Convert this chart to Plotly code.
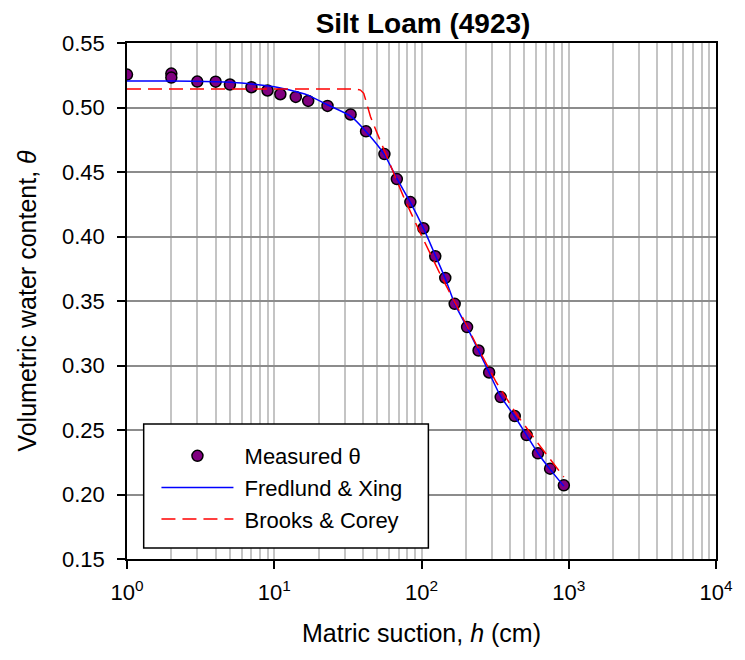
import plotly.graph_objects as go

# Measured data (matric suction h in cm, volumetric water content)
meas_h = [1, 2, 2, 3, 4, 5, 7, 9, 11, 14, 17, 23, 33, 42, 56, 68, 84, 103, 124, 145,
          168, 204, 244, 288, 345, 430, 517, 618, 747, 926]
meas_theta = [0.5255, 0.5263, 0.5232, 0.5201, 0.5200, 0.5178, 0.5157, 0.5132, 0.5103, 0.5082,
              0.5051, 0.5012, 0.4946, 0.4815, 0.4639, 0.4445, 0.4267, 0.4064, 0.3847, 0.3679,
              0.3478, 0.3298, 0.3116, 0.2946, 0.2755, 0.2608, 0.2461, 0.2319, 0.2200, 0.2071]

# Fredlund & Xing fitted curve
fx_h = [1, 2, 4, 6, 10, 13.5, 16.6, 22.6, 33, 41.5, 56, 68, 84, 103, 124, 145, 168, 204,
        244, 288, 345, 430, 517, 618, 747, 926]
fx_theta = [0.5206, 0.5205, 0.5200, 0.5190, 0.5160, 0.5128, 0.5100, 0.5025, 0.4933, 0.4820,
            0.4635, 0.4450, 0.4265, 0.4065, 0.3855, 0.3675, 0.3480, 0.3295, 0.3115, 0.2945,
            0.2760, 0.2605, 0.2460, 0.2320, 0.2195, 0.2065]

# Brooks & Corey fitted curve
bc_h = [1, 10, 30, 36, 38.5, 40.5, 42, 45, 50, 58, 76, 96, 135, 185, 251, 322, 443, 653, 926]
bc_theta = [0.5144, 0.5144, 0.5144, 0.5143, 0.5135, 0.5110, 0.5050, 0.4930, 0.4800, 0.4620,
            0.4300, 0.4050, 0.3700, 0.3400, 0.3100, 0.2870, 0.2620, 0.2360, 0.2136]

x_tickvals = [1, 10, 100, 1000, 10000]
x_ticktext = ["10<sup>0</sup>", "10<sup>1</sup>", "10<sup>2</sup>", "10<sup>3</sup>", "10<sup>4</sup>"]
y_tickvals = [0.15, 0.20, 0.25, 0.30, 0.35, 0.40, 0.45, 0.50, 0.55]

FONT = "Arial, Liberation Sans, sans-serif"
NB = "\u00a0"

fig = go.Figure()
fig.add_trace(go.Scatter(
    x=meas_h, y=meas_theta, mode="markers", name=NB + "Measured θ",
    marker=dict(size=11, color="#800080", line=dict(color="black", width=1.5)),
))
fig.add_trace(go.Scatter(
    x=fx_h, y=fx_theta, mode="lines", name=NB + "Fredlund & Xing",
    line=dict(color="#0000ff", width=1.5, shape="spline", smoothing=0.6),
))
fig.add_trace(go.Scatter(
    x=bc_h, y=bc_theta, mode="lines", name=NB + "Brooks & Corey",
    line=dict(color="#ff0000", width=1.5, dash="14px,7px"),
))

# legend frame
L, R, T, B = 127, 727, 43, 559
W, H = R - L, B - T
fig.add_shape(type="rect", xref="paper", yref="paper",
              x0=(144 - L) / W, x1=(434 - L) / W, y0=(B - 548) / H, y1=(B - 424) / H,
              line=dict(color="black", width=1.5), fillcolor="white", layer="above")

fig.update_layout(
    width=745, height=660,
    margin=dict(l=L, r=745 - R, t=T, b=660 - B),
    paper_bgcolor="white", plot_bgcolor="white",
    font=dict(family=FONT, size=22, color="black"),
    title=dict(text="<b>Silt Loam (4923)</b>", x=423 / 745, xanchor="center",
               y=1 - 23 / 660, yanchor="middle", font=dict(size=28, family=FONT)),
    showlegend=True,
    legend=dict(x=(157 - L) / W, y=(B - 435) / H, xanchor="left", yanchor="top",
                bgcolor="rgba(0,0,0,0)", borderwidth=0, itemwidth=72,
                font=dict(size=22, family=FONT)),
    xaxis=dict(
        type="log", range=[0, 4],
        tickvals=x_tickvals, ticktext=x_ticktext,
        ticks="outside", ticklen=8, tickwidth=1.5, tickcolor="black",
        showline=True, linecolor="black", linewidth=1.5, mirror=True,
        showgrid=True, gridcolor="#c4c4c4", gridwidth=1.5,
        minor=dict(dtick="D1", showgrid=True, gridcolor="#c4c4c4", gridwidth=1.5, ticks=""),
        tickfont=dict(size=22), ticklabelstandoff=5,
        title=dict(text="Matric suction, <i>h</i> (cm)", font=dict(size=25), standoff=20),
        zeroline=False,
    ),
    yaxis=dict(
        range=[0.15, 0.55], tickvals=y_tickvals, tickformat=".2f",
        ticks="outside", ticklen=8, tickwidth=1.5, tickcolor="black",
        showline=True, linecolor="black", linewidth=1.5, mirror=True,
        showgrid=True, gridcolor="#8c8c8c", gridwidth=1.5,
        tickfont=dict(size=22), ticklabelstandoff=8,
        title=dict(text="Volumetric water content, <i>θ</i>", font=dict(size=25), standoff=18),
        zeroline=False,
    ),
)

fig.write_html("out.html")
